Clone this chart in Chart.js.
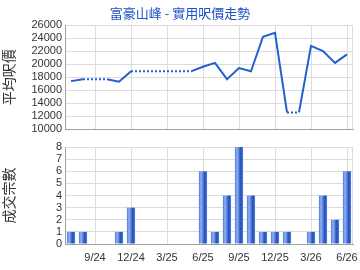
<!DOCTYPE html>
<html>
<head>
<meta charset="utf-8">
<script src="https://cdn.jsdelivr.net/npm/chart.js@4/dist/chart.umd.min.js"></script>
<style>
  html, body { margin: 0; padding: 0; background: #fff; }
  #wrap { position: relative; width: 360px; height: 270px; overflow: hidden; }
  #title { position: absolute; left: 0; top: 5px; width: 360px; text-align: center;
    font: 13px 'Noto Sans CJK TC', sans-serif; color: #1e52c8; line-height: 16px; }
  .box { position: absolute; left: 0; width: 360px; }
</style>
</head>
<body>
<div id="wrap">
  <div class="box" style="top:0;height:139px"><canvas id="priceChart" width="360" height="139"></canvas></div>
  <div class="box" style="top:135px;height:135px"><canvas id="dealsChart" width="360" height="135"></canvas></div>
  <div id="title">富豪山峰 - 實用呎價走勢</div>
</div>
<script>
/* monthly price trend + deal count */

const MONTHS = ['7/24', '8/24', '9/24', '10/24', '11/24', '12/24',
  '1/25', '2/25', '3/25', '4/25', '5/25', '6/25', '7/25', '8/25', '9/25', '10/25', '11/25', '12/25',
  '1/26', '2/26', '3/26', '4/26', '5/26', '6/26'];

// average price per sq ft, null = no deals that month
const PRICE = [17400, 17700, null, null, 17300, 18900,
  null, null, null, null, null, 19600, 20200, 17700, 19400, 18900, 24200, 24800,
  12600, null, 22800, 22000, 20200, 21500];

const DEALS = [1, 1, 0, 0, 1, 3,
  0, 0, 0, 0, 0, 6, 1, 4, 8, 4, 1, 1,
  1, 0, 1, 4, 2, 6];

const PRICE_TICKS = { min: 10000, max: 26000, step: 2000 };
const DEAL_TICKS = { min: 0, max: 8, step: 1 };

const BLUE = '#2160cf';
const GRID = '#dcdcdc';
const AXIS = '#a0a0a0';
const TEXT = '#333';
const FONT = "'Liberation Sans', Arial, sans-serif";

// months with no deals keep the last price, drawn dotted
const heldPrice = [];
PRICE.forEach((v, i) => heldPrice.push(v == null ? heldPrice[i - 1] : v));

const shownTick = (i) => i % 3 === 2;

const frame = {
  id: 'frame',
  afterDraw(chart) {
    const { ctx, chartArea: a } = chart;
    ctx.save();
    ctx.strokeStyle = GRID;
    ctx.lineWidth = 1;
    ctx.beginPath();
    ctx.moveTo(Math.round(a.right) - 0.5, a.top);
    ctx.lineTo(Math.round(a.right) - 0.5, a.bottom);
    ctx.stroke();
    ctx.restore();
  },
};

// shaded cylinder look for the bars
const barShade = {
  id: 'barShade',
  beforeDatasetsDraw(chart) {
    const ctx = chart.ctx;
    chart.getDatasetMeta(0).data.forEach((el) => {
      const w = el.width, x0 = el.x - w / 2;
      const g = ctx.createLinearGradient(x0, 0, x0 + w, 0);
      g.addColorStop(0, '#4f7bdb');
      g.addColorStop(0.28, '#94b2f0');
      g.addColorStop(0.55, '#4470d4');
      g.addColorStop(0.75, '#1f4db6');
      g.addColorStop(1, '#5a84de');
      try { el.options.backgroundColor = g; } catch (e) { /* keep flat colour */ }
    });
  },
};

function xAxis(showLabels) {
  return {
    type: 'category',
    offset: true,
    grid: {
      offset: false,
      color: (c) => (shownTick(c.index) ? GRID : 'rgba(0,0,0,0)'),
      drawTicks: showLabels,
      tickLength: 7,
      tickColor: 'rgba(0,0,0,0)',
    },
    border: { color: AXIS, width: 1 },
    ticks: {
      display: showLabels,
      autoSkip: false,
      maxRotation: 0,
      padding: 0,
      color: TEXT,
      font: { family: FONT, size: 11 },
      callback: function (v, i) { return shownTick(i) ? this.getLabelForValue(v) : ''; },
    },
    afterFit: (s) => { s.height = showLabels ? 26 : 0; },
  };
}

function yAxis(t, label) {
  return {
    min: t.min,
    max: t.max,
    grid: { color: GRID, drawTicks: false },
    border: { color: AXIS, width: 1 },
    ticks: {
      stepSize: t.step,
      autoSkip: false,
      padding: 3,
      color: TEXT,
      font: { family: FONT, size: 11 },
      callback: (v) => String(v),
    },
    title: { display: true, text: label, color: TEXT, padding: { top: 0, bottom: 0 },
      font: { family: "'Noto Sans CJK TC', sans-serif", size: 14 } },
    afterFit: (s) => { s.width = 65; },
  };
}

new Chart(document.getElementById('priceChart'), {
  type: 'line',
  data: {
    labels: MONTHS,
    datasets: [{
      data: heldPrice,
      borderColor: BLUE,
      borderWidth: 2,
      pointRadius: 0,
      tension: 0,
      segment: { borderDash: (c) => (PRICE[c.p1DataIndex] == null ? [2, 2] : undefined) },
    }],
  },
  options: {
    responsive: false,
    animation: false,
    layout: { padding: { top: 25, right: 7, left: 0, bottom: 2 } },
    plugins: { legend: { display: false }, tooltip: { enabled: false } },
    scales: { x: xAxis(false), y: yAxis(PRICE_TICKS, '平均呎價') },
  },
  plugins: [frame],
});

new Chart(document.getElementById('dealsChart'), {
  type: 'bar',
  data: {
    labels: MONTHS,
    datasets: [{
      data: DEALS,
      // scriptable so each bar keeps its own options object
      backgroundColor: () => '#4a76d6',
      borderWidth: 0,
      categoryPercentage: 1,
      barPercentage: 0.68,
    }],
  },
  options: {
    responsive: false,
    animation: false,
    layout: { padding: { top: 12, right: 7, left: 0, bottom: 0 } },
    plugins: { legend: { display: false }, tooltip: { enabled: false } },
    scales: { x: xAxis(true), y: yAxis(DEAL_TICKS, '成交宗數') },
  },
  plugins: [frame, barShade],
});
</script>
</body>
</html>
